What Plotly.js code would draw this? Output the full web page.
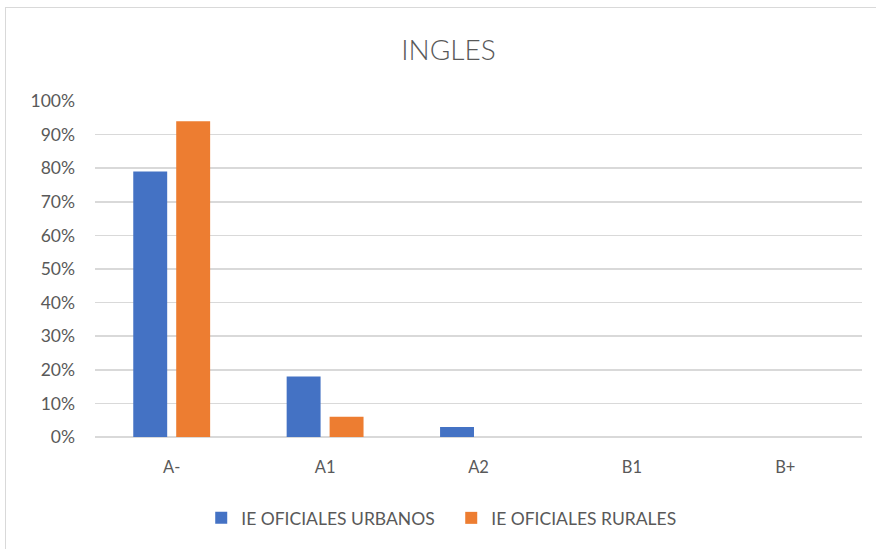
<!DOCTYPE html>
<html><head><meta charset="utf-8">
<script src="https://cdn.plot.ly/plotly-3.0.1.min.js"></script>
<style>
html,body{margin:0;padding:0;background:#fff;overflow:hidden}
#frame{position:absolute;left:5px;top:7px;width:900px;height:560px;border:1px solid #d9d9d9;box-sizing:border-box}
#chart{position:absolute;left:0;top:0;width:876px;height:549px}
</style></head>
<body>
<div id="frame"></div>
<div id="chart"></div>
<script>
const categories = ["A-", "A1", "A2", "B1", "B+"];
const urbanos = [0.79, 0.18, 0.03, 0, 0];
const rurales = [0.94, 0.06, 0, 0, 0];
const seriesNames = ["IE OFICIALES URBANOS", "IE OFICIALES RURALES"];
const yTicks = [0,0.1,0.2,0.3,0.4,0.5,0.6,0.7,0.8,0.9,1.0];
const yTickLabels = ["0%","10%","20%","30%","40%","50%","60%","70%","80%","90%","100%"];

const font = "Lato, 'Open Sans', sans-serif";
const data = [
  {type:"bar", x:categories, y:urbanos, name:seriesNames[0], marker:{color:"#4472c4"}, hoverinfo:"skip"},
  {type:"bar", x:categories, y:rurales, name:seriesNames[1], marker:{color:"#ed7d31"}, hoverinfo:"skip"}
];
const layout = {
  width:876, height:549,
  paper_bgcolor:"rgba(0,0,0,0)", plot_bgcolor:"rgba(0,0,0,0)",
  margin:{l:95, r:14, t:101, b:112},
  title:{text:"INGLES", font:{family:font, size:28, color:"#595959", weight:300}, x:0.512, xanchor:"center", y:0.908, yanchor:"middle"},
  barmode:"group", bargap:0.44, bargroupgap:0.21,
  xaxis:{type:"category", tickfont:{family:font, size:16.5, color:"#595959"}, showgrid:false, zeroline:false,
         showline:false, ticks:"", ticklabelstandoff:18},
  yaxis:{range:[0,1], tickvals:yTicks, ticktext:yTickLabels, tickfont:{family:font, size:17.5, color:"#595959"},
         showgrid:true, gridcolor:"#d9d9d9", gridwidth:1.5, zeroline:true, zerolinecolor:"#d9d9d9", zerolinewidth:1.5,
         showline:false, ticks:"", ticklabelstandoff:19, fixedrange:true},
  showlegend:true,
  legend:{orientation:"h", x:0.1385, xanchor:"left", y:-0.241, yanchor:"middle", font:{family:font, size:17.5, color:"#595959"},
          traceorder:"normal", itemwidth:30, entrywidth:205, entrywidthmode:"pixels"},
  font:{family:font}
};
Plotly.newPlot("chart", data, layout, {displayModeBar:false, staticPlot:true});
</script>
</body></html>
